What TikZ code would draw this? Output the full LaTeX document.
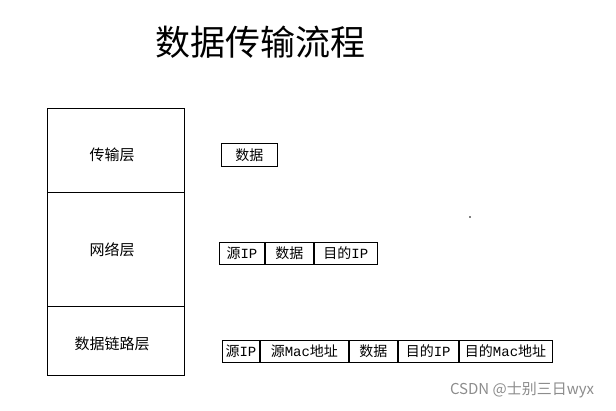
\documentclass[tikz,border=0pt]{standalone}
\usepackage{fontspec}
\newfontfamily\cjk{Noto Sans CJK SC}
\newfontfamily\mono{Liberation Mono}
\newcommand{\lat}[1]{{\mono #1}}
\begin{document}
\begin{tikzpicture}[x=1pt,y=-1pt,
  cell/.style={draw,line width=0.9pt,minimum height=22pt,inner sep=0pt,anchor=west,font=\cjk\fontsize{14}{14}\selectfont},
  layer/.style={font=\cjk\fontsize{15}{15}\selectfont}]
\useasboundingbox (0,0) rectangle (616,410);
\node[font=\cjk\fontsize{35}{35}\selectfont] (title) at (260,42) {数据传输流程};
% layer stack
\draw[line width=0.9pt] (47,108) rectangle (184,375);
\coordinate (l1a) at (47,192); \coordinate (l1b) at (184,192);
\coordinate (l2a) at (47,306); \coordinate (l2b) at (184,306);
\draw[line width=0.9pt] (l1a) -- (l1b);
\draw[line width=0.9pt] (l2a) -- (l2b);
\node[layer] (t) at (112,155) {传输层};
\node[layer] (n) at (112,250) {网络层};
\node[layer] (d) at (112,344) {数据链路层};
% transport
\node[cell,minimum width=56pt,minimum height=23pt] (td) at (221,155) {数据};
% network
\node[cell,minimum width=45pt] (n1) at (219,253) {源\lat{IP}};
\node[cell,minimum width=48pt] (n2) at (n1.east) {数据};
\node[cell,minimum width=63pt] (n3) at (n2.east) {目的\lat{IP}};
% data link
\node[cell,minimum width=37pt] (d1) at (222,351) {源\lat{IP}};
\node[cell,minimum width=88pt] (d2) at (d1.east) {源\lat{Mac}地址};
\node[cell,minimum width=48pt] (d3) at (d2.east) {数据};
\node[cell,minimum width=60pt] (d4) at (d3.east) {目的\lat{IP}};
\node[cell,minimum width=93pt] (d5) at (d4.east) {目的\lat{Mac}地址};
% artifact
\coordinate (art) at (470,217);
\fill (art) circle (0.8pt);
% watermark
\node[font=\cjk\fontsize{15}{15}\selectfont,text=black!45] (wm) at (522,390) {CSDN @士别三日wyx};
\end{tikzpicture}
\end{document}
